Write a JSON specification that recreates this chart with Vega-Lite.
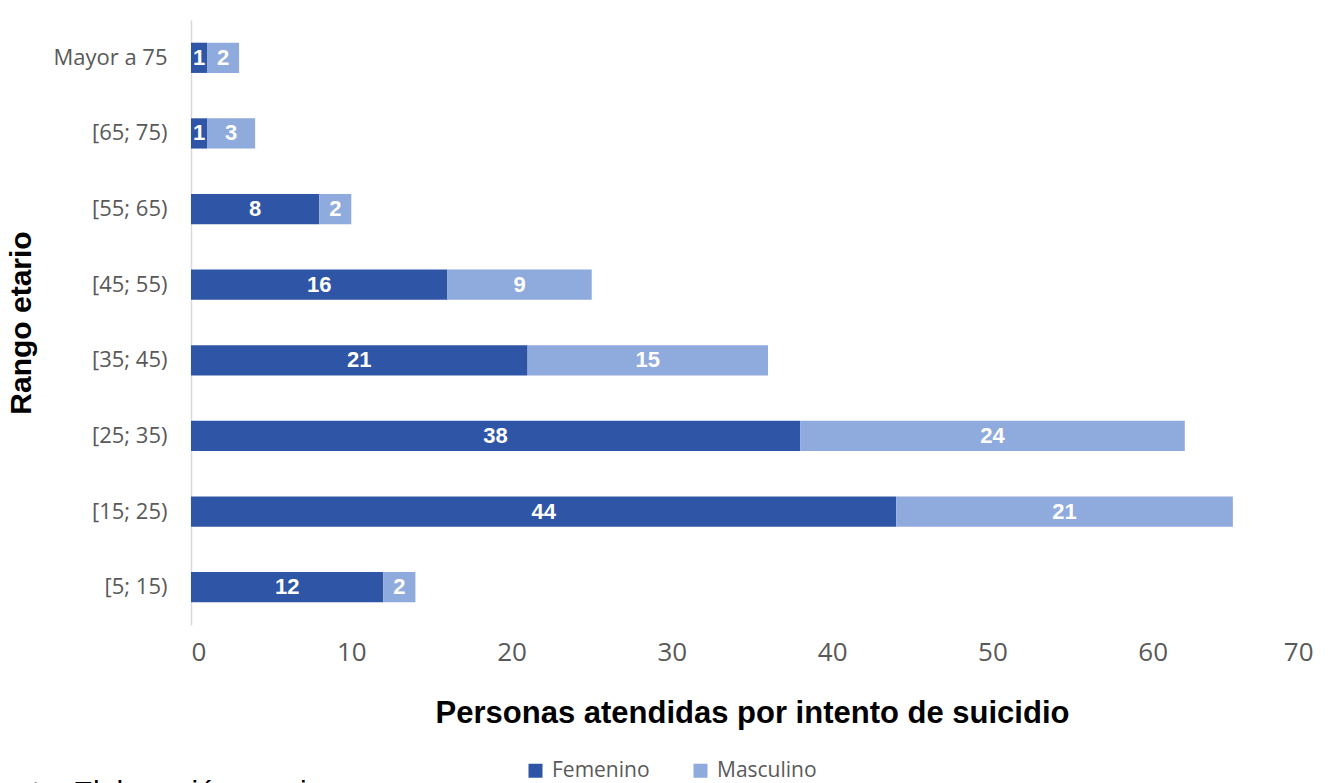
{
  "$schema": "https://vega.github.io/schema/vega-lite/v6.json",
  "width": 1122,
  "height": 605,
  "autosize": {"type": "none"},
  "padding": {"left": 191, "top": 20, "right": 31, "bottom": 158},
  "background": "white",
  "config": {"view": {"stroke": null}, "font": "Open Sans"},
  "title": {
    "text": "Fuente: Elaboración propia",
    "orient": "bottom",
    "anchor": "start",
    "frame": "group",
    "font": "Liberation Sans",
    "fontSize": 30,
    "fontWeight": "normal",
    "color": "#000000",
    "dx": -228,
    "offset": -3
  },
  "data": {
    "values": [
      {"rango": "Mayor a 75", "sexo": "Femenino", "orden": 1, "n": 1},
      {"rango": "Mayor a 75", "sexo": "Masculino", "orden": 2, "n": 2},
      {"rango": "[65; 75)", "sexo": "Femenino", "orden": 1, "n": 1},
      {"rango": "[65; 75)", "sexo": "Masculino", "orden": 2, "n": 3},
      {"rango": "[55; 65)", "sexo": "Femenino", "orden": 1, "n": 8},
      {"rango": "[55; 65)", "sexo": "Masculino", "orden": 2, "n": 2},
      {"rango": "[45; 55)", "sexo": "Femenino", "orden": 1, "n": 16},
      {"rango": "[45; 55)", "sexo": "Masculino", "orden": 2, "n": 9},
      {"rango": "[35; 45)", "sexo": "Femenino", "orden": 1, "n": 21},
      {"rango": "[35; 45)", "sexo": "Masculino", "orden": 2, "n": 15},
      {"rango": "[25; 35)", "sexo": "Femenino", "orden": 1, "n": 38},
      {"rango": "[25; 35)", "sexo": "Masculino", "orden": 2, "n": 24},
      {"rango": "[15; 25)", "sexo": "Femenino", "orden": 1, "n": 44},
      {"rango": "[15; 25)", "sexo": "Masculino", "orden": 2, "n": 21},
      {"rango": "[5; 15)", "sexo": "Femenino", "orden": 1, "n": 12},
      {"rango": "[5; 15)", "sexo": "Masculino", "orden": 2, "n": 2}
    ]
  },
  "transform": [
    {"stack": "n", "groupby": ["rango"], "sort": [{"field": "orden"}], "as": ["v0", "v1"]},
    {"calculate": "(datum.v0 + datum.v1) / 2", "as": "mid"}
  ],
  "encoding": {
    "y": {
      "field": "rango",
      "type": "nominal",
      "sort": ["Mayor a 75", "[65; 75)", "[55; 65)", "[45; 55)", "[35; 45)", "[25; 35)", "[15; 25)", "[5; 15)"],
      "scale": {"paddingInner": 0.6, "paddingOuter": 0.3},
      "axis": {
        "title": "Rango etario",
        "titleFont": "Liberation Sans",
        "titleFontSize": 30,
        "titleFontWeight": "bold",
        "titleColor": "#000000",
        "titlePadding": 16,
        "labelFont": "Open Sans",
        "labelFontSize": 22,
        "labelColor": "#595959",
        "labelPadding": 24,
        "ticks": false,
        "domain": true,
        "domainColor": "#D9D9D9",
        "domainWidth": 1.5,
        "grid": false
      }
    }
  },
  "layer": [
    {
      "mark": {"type": "bar"},
      "encoding": {
        "x": {
          "field": "v0",
          "type": "quantitative",
          "scale": {"domain": [0, 70], "nice": false},
          "axis": {
            "title": "Personas atendidas por intento de suicidio",
            "titleFont": "Liberation Sans",
            "titleFontSize": 31,
            "titleFontWeight": "bold",
            "titleColor": "#000000",
            "titlePadding": 33,
            "values": [0, 10, 20, 30, 40, 50, 60, 70],
            "labelOverlap": false,
            "labelFont": "Open Sans",
            "labelFontSize": 26,
            "labelColor": "#595959",
            "labelPadding": 14,
            "ticks": false,
            "domain": false,
            "grid": false
          }
        },
        "x2": {"field": "v1"},
        "color": {
          "field": "sexo",
          "type": "nominal",
          "scale": {"domain": ["Femenino", "Masculino"], "range": ["#2F55A6", "#8FAADC"]},
          "legend": {
            "title": null,
            "orient": "none",
            "legendX": 334,
            "legendY": 740,
            "direction": "horizontal",
            "symbolType": "square",
            "symbolSize": 196,
            "symbolStrokeWidth": 0,
            "labelFont": "Open Sans",
            "labelFontSize": 21,
            "labelColor": "#595959",
            "columnPadding": 40,
            "labelOffset": 6
          }
        }
      }
    },
    {
      "mark": {"type": "text", "color": "white", "fontWeight": "bold", "font": "Liberation Sans", "fontSize": 22, "align": "center", "baseline": "middle"},
      "encoding": {
        "x": {
          "field": "mid",
          "type": "quantitative",
          "scale": {"domain": [0, 70], "nice": false},
          "axis": {
            "title": "Personas atendidas por intento de suicidio",
            "titleFont": "Liberation Sans",
            "titleFontSize": 31,
            "titleFontWeight": "bold",
            "titleColor": "#000000",
            "titlePadding": 33,
            "values": [0, 10, 20, 30, 40, 50, 60, 70],
            "labelOverlap": false,
            "labelFont": "Open Sans",
            "labelFontSize": 26,
            "labelColor": "#595959",
            "labelPadding": 14,
            "ticks": false,
            "domain": false,
            "grid": false
          }
        },
        "text": {"field": "n", "type": "quantitative"}
      }
    }
  ]
}
